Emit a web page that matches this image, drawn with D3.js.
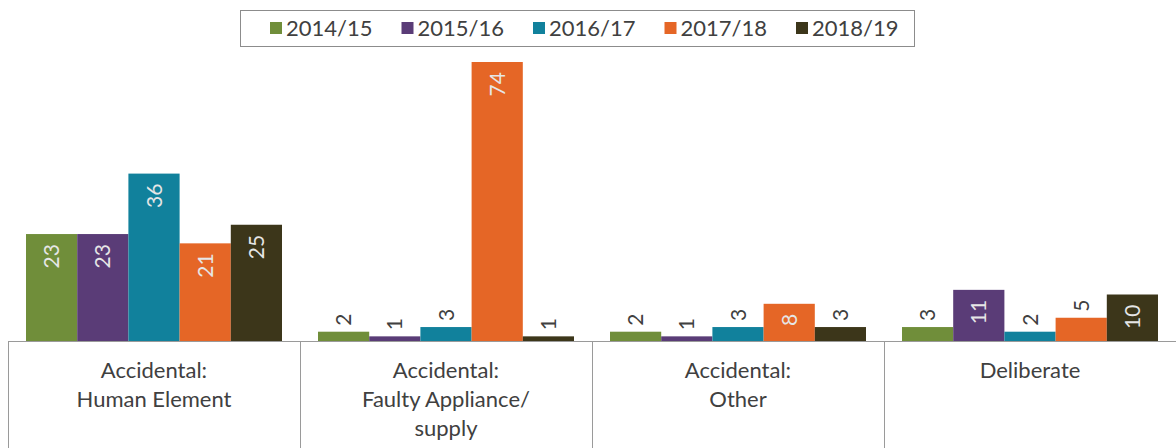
<!DOCTYPE html>
<html>
<head>
<meta charset="utf-8">
<script src="https://cdn.jsdelivr.net/npm/d3@7"></script>
<style>
	body { margin: 0; background: #fff; }
	svg { display: block; font-family: Lato, 'Open Sans', sans-serif; }
</style>
</head>
<body>
<svg id="chart" width="1176" height="448"></svg>
<script>
var categories = [
	[ 'Accidental:', 'Human Element' ],
	[ 'Accidental:', 'Faulty Appliance/', 'supply' ],
	[ 'Accidental:', 'Other' ],
	[ 'Deliberate' ]
];

var years = [ '2014/15', '2015/16', '2016/17', '2017/18', '2018/19' ];

var values2014 = [ 23, 2, 2, 3 ];
var values2015 = [ 23, 1, 1, 11 ];
var values2016 = [ 36, 3, 3, 2 ];
var values2017 = [ 21, 74, 8, 5 ];
var values2018 = [ 25, 1, 3, 10 ];

var series = [ values2014, values2015, values2016, values2017, values2018 ];

var colors = [ '#708E3A', '#5A3C77', '#11819C', '#E56626', '#3C361A' ];

var svg = d3.select( '#chart' );

var baseline = 341;
var plotTop = 62;

var x = d3.scaleBand()
	.domain( d3.range( categories.length ) )
	.range( [ 8, 1176 ] );

var xInner = d3.scaleBand()
	.domain( d3.range( years.length ) )
	.range( [ 18, x.bandwidth() - 18 ] );

var y = d3.scaleLinear()
	.domain( [ 0, 60 ] )
	.range( [ baseline, plotTop ] );

// the big 2017/18 bar runs off the axis max, so it gets clipped
svg.append( 'clipPath' ).attr( 'id', 'plot-clip' )
	.append( 'rect' )
	.attr( 'x', 0 ).attr( 'y', plotTop )
	.attr( 'width', 1176 ).attr( 'height', baseline - plotTop );

var rows = [];
series.forEach( function ( vals, s ) {
	vals.forEach( function ( v, c ) {
		rows.push( { s: s, c: c, v: v } );
	} );
} );

var barTop = function ( d ) { return Math.max( y( d.v ), plotTop ); };

svg.append( 'g' ).attr( 'clip-path', 'url(#plot-clip)' )
	.selectAll( 'rect' )
	.data( rows )
	.enter()
	.append( 'rect' )
	.attr( 'x', function ( d ) { return x( d.c ) + xInner( d.s ); } )
	.attr( 'width', xInner.bandwidth() )
	.attr( 'y', function ( d ) { return y( d.v ); } )
	.attr( 'height', function ( d ) { return baseline - y( d.v ); } )
	.style( 'fill', function ( d ) { return colors[d.s]; } );

// value labels, rotated, inside the bar when there is room
svg.append( 'g' ).selectAll( 'text' )
	.data( rows )
	.enter()
	.append( 'text' )
	.text( function ( d ) { return d.v; } )
	.attr( 'transform', function ( d ) {
		var cx = x( d.c ) + xInner( d.s ) + xInner.bandwidth() / 2;
		var inside = d.v >= 8;
		var ty = inside ? barTop( d ) + 10 : barTop( d ) - 6;
		return 'translate(' + cx + ',' + ty + ') rotate(-90)';
	} )
	.attr( 'text-anchor', function ( d ) { return d.v >= 8 ? 'end' : 'start'; } )
	.attr( 'dy', '0.36em' )
	.style( 'font-size', '21px' )
	.style( 'fill', function ( d ) { return d.v >= 8 ? '#e6e6e6' : '#404040'; } );

// category axis: baseline plus dividers between categories
var axis = svg.append( 'g' );
axis.append( 'line' )
	.attr( 'x1', 8 ).attr( 'x2', 1176 )
	.attr( 'y1', baseline + 0.5 ).attr( 'y2', baseline + 0.5 )
	.style( 'stroke', '#9a9a9a' );

axis.selectAll( 'line.div' )
	.data( d3.range( categories.length + 1 ) )
	.enter()
	.append( 'line' )
	.classed( 'div', true )
	.attr( 'x1', function ( i ) { return Math.round( 8 + i * x.bandwidth() ) + 0.5; } )
	.attr( 'x2', function ( i ) { return Math.round( 8 + i * x.bandwidth() ) + 0.5; } )
	.attr( 'y1', baseline ).attr( 'y2', 448 )
	.style( 'stroke', '#9a9a9a' );

var catText = axis.selectAll( 'text.cat' )
	.data( categories )
	.enter()
	.append( 'text' )
	.classed( 'cat', true )
	.attr( 'text-anchor', 'middle' )
	.style( 'font-size', '22px' )
	.style( 'fill', '#404040' );

catText.selectAll( 'tspan' )
	.data( function ( d, i ) { return d.map( function ( t ) { return { t: t, c: i }; } ); } )
	.enter()
	.append( 'tspan' )
	.attr( 'x', function ( d ) { return x( d.c ) + x.bandwidth() / 2; } )
	.attr( 'y', function ( d, j ) { return 378 + j * 29; } )
	.text( function ( d ) { return d.t; } );

// legend
var legend = svg.append( 'g' );
legend.append( 'rect' )
	.attr( 'x', 240.5 ).attr( 'y', 10.5 )
	.attr( 'width', 674 ).attr( 'height', 36 )
	.style( 'fill', '#fff' )
	.style( 'stroke', '#8c8c8c' );

var item = legend.selectAll( 'g.item' )
	.data( years )
	.enter()
	.append( 'g' )
	.classed( 'item', true )
	.attr( 'transform', function ( d, i ) { return 'translate(' + ( 270 + i * 131.5 ) + ',28)'; } );

item.append( 'rect' )
	.attr( 'x', 0 ).attr( 'y', -6 )
	.attr( 'width', 12 ).attr( 'height', 12 )
	.style( 'fill', function ( d, i ) { return colors[i]; } );

item.append( 'text' )
	.attr( 'x', 16 )
	.attr( 'dy', '0.35em' )
	.text( function ( d ) { return d; } )
	.style( 'font-size', '22px' )
	.style( 'fill', '#404040' );
</script>
</body>
</html>
